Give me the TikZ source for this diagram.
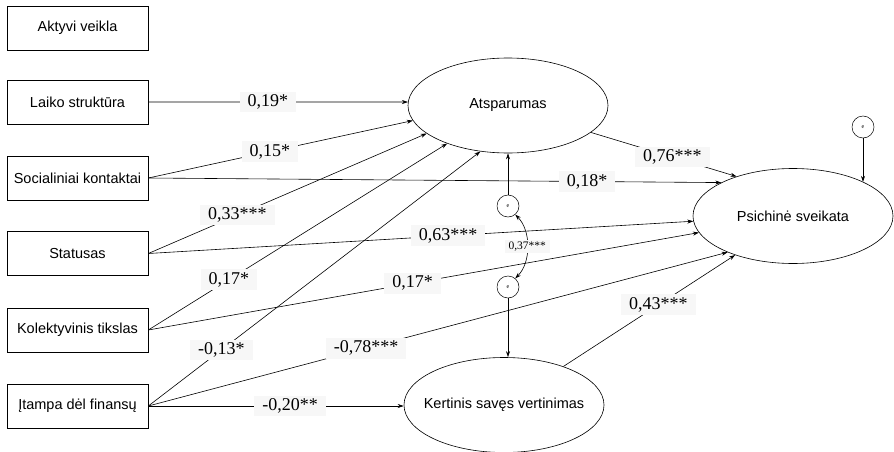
\documentclass[tikz,border=0pt]{standalone}
\usepackage{fontspec}
\setmainfont{Liberation Sans}
\newfontfamily\coeffont{Liberation Serif}
\usetikzlibrary{shapes.geometric,arrows.meta}

\begin{document}
\begin{tikzpicture}[x=1pt,y=-1pt,
  every node/.style={font=\fontsize{14.5}{16}\selectfont},
  obs/.style={draw, rectangle, minimum width=141pt, minimum height=44pt,
    inner sep=0pt, line width=0.6pt},
  latent/.style={draw, ellipse, minimum width=200pt, minimum height=95pt,
    inner sep=0pt, line width=0.6pt},
  err/.style={draw, circle, minimum size=22pt, inner sep=0pt,
    line width=0.5pt, font=\fontsize{6}{7}\selectfont\coeffont},
  effect/.style={draw, line width=0.6pt, -{Stealth[length=6pt,width=4pt]}},
  covar/.style={draw, line width=0.6pt,
    {Stealth[length=6pt,width=4pt]}-{Stealth[length=6pt,width=4pt]}},
  coef/.style={fill=black!3, inner xsep=8pt, inner ysep=3pt,
    font=\fontsize{18}{20}\selectfont\coeffont},
  coefsmall/.style={fill=black!3, inner xsep=4pt, inner ysep=2pt,
    font=\fontsize{11.5}{13}\selectfont\coeffont},
  ]
\useasboundingbox (0,0) rectangle (894,452);

% observed predictors
\node[obs] (akt)   at (77.5,28)    {Aktyvi veikla};
\node[obs] (laiko) at (77.5,102)   {Laiko struktūra};
\node[obs] (soc)   at (77.5,178)   {Socialiniai kontaktai};
\node[obs] (stat)  at (77.5,253.5) {Statusas};
\node[obs] (kol)   at (77.5,330)   {Kolektyvinis tikslas};
\node[obs] (itamp) at (77.5,406)   {Įtampa dėl finansų};

% latent variables
\node[latent] (ats) at (508,105.5) {Atsparumas};
\node[latent] (psi) at (793,216)   {Psichinė sveikata};
\node[latent] (ker) at (504,405)   {\makebox[0pt]{Kertinis savęs vertinimas}};

% error terms
\node[err] (eA) at (508,206) {e};
\node[err] (eK) at (508,287) {e};
\node[err] (eP) at (863,127) {e};

% paths into Atsparumas
\draw[effect] (laiko.east) -- node[coef,pos=0.46] (l1) {0,19*} (ats.178);
\draw[effect] (soc.east)   -- node[coef,pos=0.46] (l2) {0,15*} (ats.189);
\draw[effect] (stat.east)  -- node[coef,pos=0.32] (l3) {0,33***} (ats.199);
\draw[effect] (kol.east)   -- node[coef,pos=0.27] (l4) {0,17*} (ats.212);
\draw[effect] (itamp.east) -- node[coef,pos=0.22] (l5) {-0,13*} (ats.239);

% paths into Psichinė sveikata
\draw[effect] (ats.342)    -- node[coef,pos=0.56] (l6) {0,76***} (psi.145);
\draw[effect] (soc.east)   -- node[coef,pos=0.766] (l7) {0,18*} (psi.155);
\draw[effect] (stat.east)  -- node[coef,pos=0.55] (l8) {0,63***} (psi.183);
\draw[effect] (kol.east)   -- node[coef,pos=0.48] (l9) {0,17*} (psi.190);
\draw[effect] (itamp.east) -- node[coef,pos=0.376] (l10) {-0,78***} (psi.209);
\draw[effect] (ker.33)     -- node[coef,pos=0.553] (l11) {0,43***} (psi.214);

% path into Kertinis savęs vertinimas
\draw[effect] (itamp.east) -- node[coef,pos=0.555] (l12) {-0,20**} (itamp.east -| ker.west);

% error terms
\draw[effect] (eA.north)  -- (ats.south);
\draw[effect] (eK.south)  -- (eK.south |- ker.north);
\draw[effect] (eP.south)  -- (eP.south |- psi.26);
\draw[covar] (eA.-50) .. controls +(16,16) and +(16,-16) .. node[coefsmall,pos=0.5] (l13) {0,37***} (eK.50);
\end{tikzpicture}
\end{document}
